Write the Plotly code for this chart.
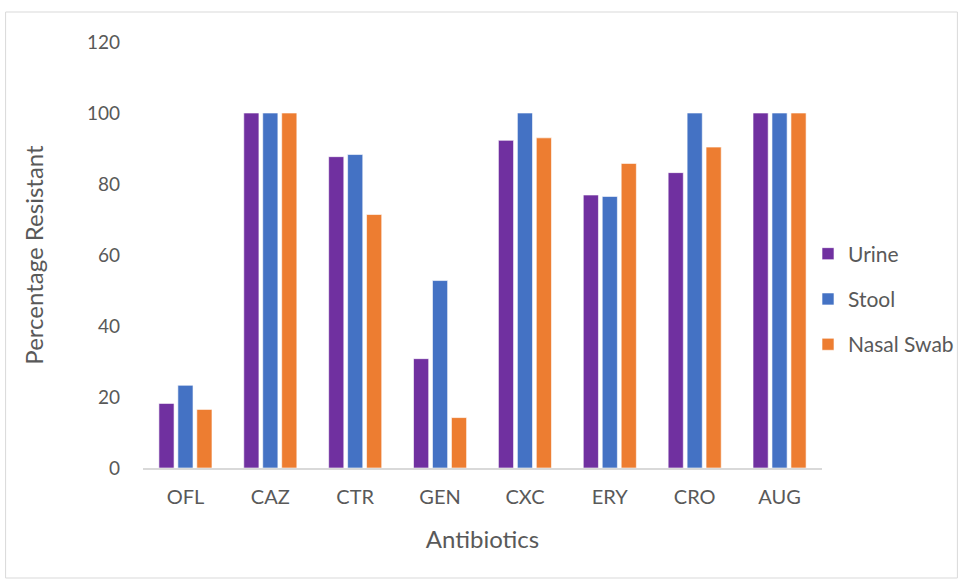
import plotly.graph_objects as go

categories = ["OFL", "CAZ", "CTR", "GEN", "CXC", "ERY", "CRO", "AUG"]
urine = [18.2, 100, 87.7, 30.8, 92.3, 76.9, 83.2, 100]
stool = [23.3, 100, 88.3, 52.8, 100, 76.5, 100, 100]
nasal = [16.5, 100, 71.4, 14.2, 93.0, 85.8, 90.4, 100]
y_ticks = [0, 20, 40, 60, 80, 100, 120]

W, H = 958, 579
ml, mr, mt, mb = 142.5, 136, 42, 111
pw, ph = W - ml - mr, H - mt - mb

font_family = "Lato, 'Open Sans', sans-serif"
tick_color = "#595959"

fig = go.Figure()
series = [("Urine", urine, "#7030A0"), ("Stool", stool, "#4472C4"), ("Nasal Swab", nasal, "#ED7D31")]
for name, vals, col in series:
    fig.add_trace(go.Bar(
        x=categories, y=vals, name=name, legendgroup=name,
        marker=dict(color=col, line=dict(color="rgba(255,255,255,0.6)", width=1)),
    ))

# outer chart border
x0 = (5 - ml) / pw
x1 = (957.5 - ml) / pw
y1 = (H - mb - 12) / ph
y0 = (H - mb - 578) / ph
fig.add_shape(type="rect", xref="paper", yref="paper", x0=x0, x1=x1, y0=y0, y1=y1,
              line=dict(color="#D9D9D9", width=1), fillcolor="rgba(0,0,0,0)", layer="below")

legend_center_px = 299
fig.update_layout(
    width=W, height=H,
    margin=dict(l=ml, r=mr, t=mt, b=mb, autoexpand=False),
    paper_bgcolor="white", plot_bgcolor="white",
    barmode="group", bargap=0.33, bargroupgap=0.2,
    font=dict(family=font_family, color=tick_color, size=18),
    xaxis=dict(
        title=dict(text="Antibiotics", font=dict(size=24, color=tick_color), standoff=24),
        tickfont=dict(size=20, color=tick_color),
        showline=True, linecolor="#D9D9D9", linewidth=1.5,
        ticks="", showgrid=False, zeroline=False, ticklabelstandoff=10,
    ),
    yaxis=dict(
        title=dict(text="Percentage Resistant", font=dict(size=24, color=tick_color), standoff=36),
        range=[0, 120], tickvals=y_ticks, ticktext=[str(v) for v in y_ticks],
        tickfont=dict(size=19, color=tick_color),
        showgrid=False, zeroline=False, showline=False, ticks="",
        ticklabelstandoff=22,
    ),
    legend=dict(
        x=(808 - ml) / pw, xanchor="left",
        y=1 - (legend_center_px - mt) / ph, yanchor="middle",
        font=dict(size=21, color=tick_color),
        tracegroupgap=15, itemwidth=30,
        bgcolor="rgba(0,0,0,0)",
    ),
    showlegend=True,
)

fig.write_html("out.html", config={"displayModeBar": False},
               post_script="document.body.style.margin='0px';")
